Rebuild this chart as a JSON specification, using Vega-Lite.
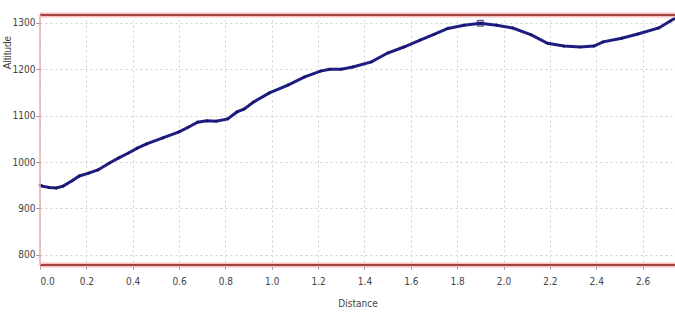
{
  "$schema": "https://vega.github.io/schema/vega-lite/v6.json",
  "width": 635,
  "height": 250,
  "autosize": {"type": "none"},
  "padding": {"left": 40, "top": 15, "right": 0, "bottom": 53},
  "background": "white",
  "config": {
    "view": {"stroke": null},
    "axis": {
      "labelFont": "DejaVu Sans Condensed",
      "labelFontSize": 10,
      "labelColor": "#444444",
      "titleFont": "Liberation Sans",
      "titleFontSize": 10,
      "titleFontWeight": "normal",
      "titleColor": "#444444",
      "domain": false,
      "gridColor": "#d0d0d0",
      "gridDash": [2, 3],
      "gridWidth": 1,
      "tickColor": "#888888",
      "tickSize": 4
    }
  },
  "datasets": {
    "profile": [
      {"distance": 0.0, "altitude": 950},
      {"distance": 0.01, "altitude": 948},
      {"distance": 0.04, "altitude": 945},
      {"distance": 0.07, "altitude": 944},
      {"distance": 0.10, "altitude": 948},
      {"distance": 0.14, "altitude": 960},
      {"distance": 0.17, "altitude": 970},
      {"distance": 0.21, "altitude": 976},
      {"distance": 0.25, "altitude": 983},
      {"distance": 0.30, "altitude": 998},
      {"distance": 0.34, "altitude": 1009},
      {"distance": 0.38, "altitude": 1019},
      {"distance": 0.42, "altitude": 1030},
      {"distance": 0.46, "altitude": 1039},
      {"distance": 0.53, "altitude": 1052},
      {"distance": 0.60, "altitude": 1065},
      {"distance": 0.64, "altitude": 1075},
      {"distance": 0.68, "altitude": 1086},
      {"distance": 0.72, "altitude": 1089},
      {"distance": 0.76, "altitude": 1088},
      {"distance": 0.81, "altitude": 1093},
      {"distance": 0.85, "altitude": 1108},
      {"distance": 0.88, "altitude": 1114},
      {"distance": 0.92, "altitude": 1129},
      {"distance": 0.99, "altitude": 1149},
      {"distance": 1.07, "altitude": 1166},
      {"distance": 1.14, "altitude": 1183},
      {"distance": 1.21, "altitude": 1196},
      {"distance": 1.25, "altitude": 1200},
      {"distance": 1.30, "altitude": 1200},
      {"distance": 1.35, "altitude": 1205},
      {"distance": 1.43, "altitude": 1216},
      {"distance": 1.50, "altitude": 1235},
      {"distance": 1.57, "altitude": 1248},
      {"distance": 1.64, "altitude": 1263},
      {"distance": 1.70, "altitude": 1275},
      {"distance": 1.76, "altitude": 1288},
      {"distance": 1.83, "altitude": 1295},
      {"distance": 1.90, "altitude": 1299},
      {"distance": 1.97, "altitude": 1295},
      {"distance": 2.04, "altitude": 1289},
      {"distance": 2.12, "altitude": 1274},
      {"distance": 2.19, "altitude": 1256},
      {"distance": 2.26, "altitude": 1250},
      {"distance": 2.33, "altitude": 1248},
      {"distance": 2.39, "altitude": 1250},
      {"distance": 2.43, "altitude": 1259},
      {"distance": 2.51, "altitude": 1267},
      {"distance": 2.58, "altitude": 1276},
      {"distance": 2.67, "altitude": 1289},
      {"distance": 2.72, "altitude": 1304},
      {"distance": 2.74, "altitude": 1310}
    ],
    "limits": [
      {"altitude": 1317},
      {"altitude": 778}
    ],
    "peak": [
      {"distance": 1.90, "altitude": 1299}
    ]
  },
  "layer": [
    {
      "data": {"name": "profile"},
      "mark": {"type": "line", "color": "#1e1e82", "strokeWidth": 3, "clip": true},
      "encoding": {
        "x": {
          "field": "distance",
          "type": "quantitative",
          "scale": {"domain": [0, 2.74], "nice": false, "zero": false},
          "axis": {
            "values": [0, 0.2, 0.4, 0.6, 0.8, 1.0, 1.2, 1.4, 1.6, 1.8, 2.0, 2.2, 2.4, 2.6],
            "format": ".1f",
            "title": "Distance",
            "labelPadding": 7,
            "titlePadding": 12,
            "titleFont": "DejaVu Sans Condensed"
          }
        },
        "y": {
          "field": "altitude",
          "type": "quantitative",
          "scale": {"domain": [778, 1317], "nice": false, "zero": false},
          "axis": {
            "values": [800, 900, 1000, 1100, 1200, 1300],
            "format": "d",
            "title": "Altitude",
            "labelPadding": 1,
            "titleX": -33,
            "titleY": 37,
            "titleAngle": -90,
            "titleBaseline": "middle",
            "titleAlign": "center"
          }
        }
      }
    },
    {
      "data": {"name": "profile"},
      "mark": {"type": "point", "shape": "cross", "size": 10, "filled": true, "color": "#101050", "opacity": 0.7},
      "encoding": {
        "x": {"field": "distance", "type": "quantitative"},
        "y": {"field": "altitude", "type": "quantitative"}
      }
    },
    {
      "data": {"name": "peak"},
      "mark": {"type": "point", "shape": "square", "size": 30, "filled": false, "color": "#1e1e82", "strokeWidth": 1.5},
      "encoding": {
        "x": {"field": "distance", "type": "quantitative"},
        "y": {"field": "altitude", "type": "quantitative"}
      }
    },
    {
      "data": {"name": "limits"},
      "mark": {"type": "rule", "color": "#f4c0c0", "strokeWidth": 5},
      "encoding": {
        "y": {"field": "altitude", "type": "quantitative"}
      }
    },
    {
      "data": {"name": "limits"},
      "mark": {"type": "rule", "color": "#8b1a1a", "strokeWidth": 1.5},
      "encoding": {
        "y": {"field": "altitude", "type": "quantitative"}
      }
    },
    {
      "data": {"values": [{"distance": 0}]},
      "mark": {"type": "rule", "color": "#f0a8a8", "strokeWidth": 1.5},
      "encoding": {
        "x": {"field": "distance", "type": "quantitative"}
      }
    }
  ]
}
